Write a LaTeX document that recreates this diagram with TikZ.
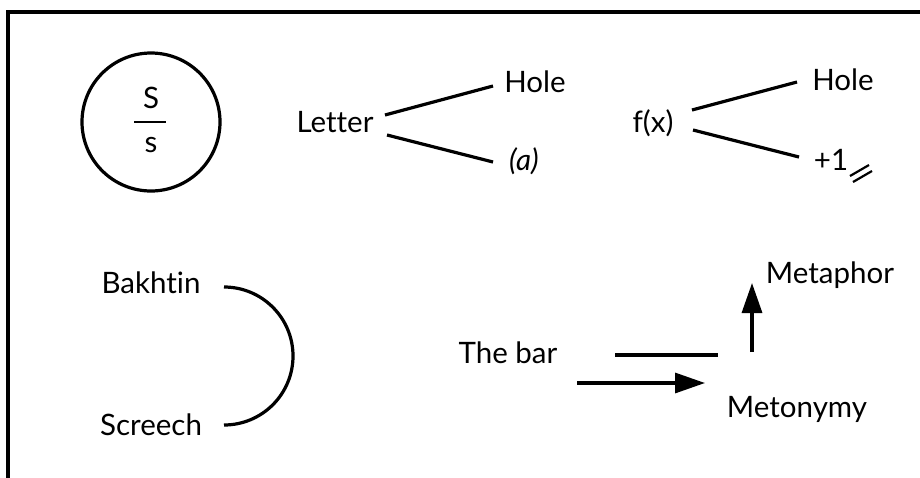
\documentclass[tikz,border=0pt]{standalone}
\usepackage{fontspec}
\setmainfont{Lato}[Ligatures={NoCommon}]
\usetikzlibrary{arrows.meta}
\begin{document}
\begin{tikzpicture}[x=1pt,y=-1pt,
  lbl/.style={font=\fontsize{29.5}{34}\selectfont, inner sep=0pt, anchor=base},
  conn/.style={line width=3.2pt},
  arr/.style={-{Triangle[length=30pt,width=20pt]}, line width=3.2pt}]
\useasboundingbox (0,0) rectangle (920,477);
% frame (top and left edges only)
\draw[line width=3.2pt, line join=miter] (921,12) -- (8,12) -- (8,478);
% circle with S/s
\node[draw, circle, line width=3.2pt, minimum size=138pt, inner sep=0pt] (circ) at (151,122) {};
\node[lbl] (S) at (151,108) {S};
\node[lbl] (s) at (151,152) {s};
\coordinate (fl) at (134,122);
\coordinate (fr) at (166,122);
\draw[line width=2pt] (fl) -- (fr);
% Letter tree
\node[lbl] (letter) at (335,132) {Letter};
\node[lbl] (hole1) at (535,92) {Hole};
\node[lbl] (a) at (524,170) {\itshape (a)};
\coordinate (l1s) at (385,115);
\coordinate (l1e) at (493,86);
\coordinate (l2s) at (387,135);
\coordinate (l2e) at (493,162);
\draw[conn] (l1s) -- (l1e);
\draw[conn] (l2s) -- (l2e);
% f(x) tree
\node[lbl] (fx) at (653,132) {f(x)};
\node[lbl] (hole2) at (843,90) {Hole};
\node[lbl] (p1) at (831,170) {+1};
\coordinate (f1s) at (692,110);
\coordinate (f1e) at (797,82);
\coordinate (f2s) at (693,130);
\coordinate (f2e) at (799,157);
\draw[conn] (f1s) -- (f1e);
\draw[conn] (f2s) -- (f2e);
\coordinate (m1s) at (850,176);
\coordinate (m1e) at (869,165);
\coordinate (m2s) at (853,182);
\coordinate (m2e) at (872,171);
\draw[line width=2.2pt] (m1s) -- (m1e);
\draw[line width=2.2pt] (m2s) -- (m2e);
% Bakhtin / Screech
\node[lbl] (bak) at (151,293) {Bakhtin};
\node[lbl] (scr) at (151,435) {Screech};
\coordinate (arcs) at (224,287);
\draw[conn] (arcs) arc[start angle=90, end angle=-90, radius=69pt] coordinate (arce);
% The bar
\node[lbl] (bar) at (508,363) {The bar};
\node[lbl] (meta) at (830,283) {Metaphor};
\node[lbl] (meto) at (797,417) {Metonymy};
\coordinate (b1s) at (615,355);
\coordinate (b1e) at (718,355);
\draw[conn] (b1s) -- (b1e);
\coordinate (a1s) at (577,383);
\coordinate (a1e) at (705,383);
\draw[arr] (a1s) -- (a1e);
\coordinate (a2s) at (752,352);
\coordinate (a2e) at (752,283);
\draw[arr] (a2s) -- (a2e);
\end{tikzpicture}
\end{document}
